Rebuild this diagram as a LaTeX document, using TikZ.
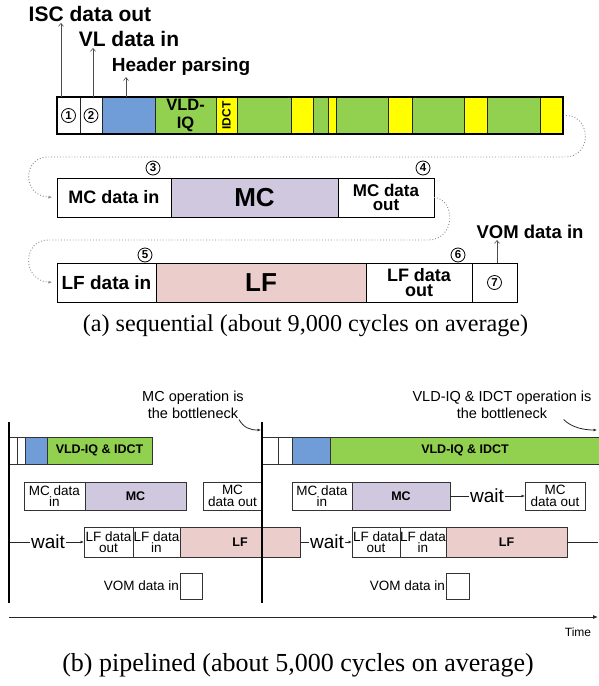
\documentclass[tikz,border=0pt]{standalone}
\usepackage{fontspec}
\setmainfont{Liberation Serif}
\setsansfont{Liberation Sans}
\usetikzlibrary{arrows.meta}

\newcommand\fss[2]{\fontsize{#1}{#2}\selectfont}

\definecolor{hpblue}{RGB}{112,156,216}
\definecolor{vgreen}{RGB}{146,208,80}
\definecolor{idyel}{RGB}{255,255,0}
\definecolor{mclav}{RGB}{208,200,223}
\definecolor{lfpink}{RGB}{235,205,204}
\definecolor{dotgray}{RGB}{140,140,140}

\tikzset{
  segA/.style={draw=black!85, line width=1pt, minimum height=37pt, inner sep=0pt,
               outer sep=0pt, anchor=north west, align=center},
  rowA/.style={draw=black, line width=1pt, minimum height=39pt, inner sep=0pt,
               outer sep=0pt, anchor=north west, align=center,
               font=\sffamily\bfseries\fss{18}{14.5}},
  bigA/.style={rowA, font=\sffamily\bfseries\fss{26}{26}},
  num/.style={circle, draw=black, line width=0.8pt, inner sep=0pt, minimum size=14pt,
              font=\sffamily\bfseries\fss{11.5}{11.5}},
  lbl/.style={font=\sffamily\bfseries\fss{20}{20}, inner sep=1pt},
  uparrow/.style={draw=black!70, line width=0.6pt, -{Straight Barb[length=3pt,width=5pt]}},
  dotlink/.style={draw=dotgray, line width=0.9pt, dotted,
                  -{Latex[length=3.5pt,width=3pt]}, shorten >=5pt},
  segB/.style={draw=black!80, line width=0.8pt, minimum height=27pt, inner sep=0pt,
               outer sep=0pt, anchor=north west, align=center,
               font=\sffamily\bfseries\fss{12.5}{12.5}},
  boxB/.style={draw=black!80, line width=0.8pt, inner sep=0pt, outer sep=0pt,
               anchor=north west, align=center, font=\sffamily\fss{13.5}{11.5}},
  bigB/.style={boxB, font=\sffamily\bfseries\fss{12.5}{12.5}},
  waitlbl/.style={font=\sffamily\fss{19}{19}, inner sep=1.2pt},
  thin/.style={draw=black!85, line width=0.8pt},
  thinarrow/.style={thin, -{Latex[length=3.5pt,width=3pt]}},
  barline/.style={draw=black, line width=1.8pt},
  note/.style={font=\sffamily\fss{14.5}{17}, align=center, inner sep=0pt},
  caption/.style={font=\rmfamily\fss{24.2}{24.2}, inner sep=0pt}
}

\begin{document}
\begin{tikzpicture}[x=1pt,y=-1pt]
\useasboundingbox (0,0) rectangle (598,686);
\fill[white] (0,0) rectangle (598,686);

% ---------------- (a) sequential ----------------
% decoding stages of one macroblock
\node[segA, fill=white, minimum width=23pt] (s1) at (57,97) {};
\node[segA, fill=white, minimum width=22pt] (s2) at (s1.north east) {};
\node[segA, fill=hpblue, minimum width=53pt] (hp) at (s2.north east) {};
\node[segA, fill=vgreen, minimum width=61pt, font=\sffamily\bfseries\fss{16.5}{18}] (vld) at (hp.north east) {VLD-\\IQ};
\node[segA, fill=idyel, minimum width=21pt] (idct) at (vld.north east) {};
\node[rotate=90, font=\sffamily\bfseries\fss{12}{12}, inner sep=0pt] (idcttxt) at (idct.center) {IDCT};
\node[segA, fill=vgreen, minimum width=54pt] (g1) at (idct.north east) {};
\node[segA, fill=idyel, minimum width=22pt] (y1) at (g1.north east) {};
\node[segA, fill=vgreen, minimum width=15pt] (g2) at (y1.north east) {};
\node[segA, fill=idyel, minimum width=8pt] (y2) at (g2.north east) {};
\node[segA, fill=vgreen, minimum width=52pt] (g3) at (y2.north east) {};
\node[segA, fill=idyel, minimum width=24pt] (y3) at (g3.north east) {};
\node[segA, fill=vgreen, minimum width=52pt] (g4) at (y3.north east) {};
\node[segA, fill=idyel, minimum width=23pt] (y4) at (g4.north east) {};
\node[segA, fill=vgreen, minimum width=53pt] (g5) at (y4.north east) {};
\node[segA, fill=idyel, minimum width=23pt] (y5) at (g5.north east) {};
\draw[black, line width=1.2pt] (s1.north west) rectangle (y5.south east);

\node[num] (n1) at (s1.center) {1};
\node[num] (n2) at (s2.center) {2};

% labels above the first stages
\node[lbl, font=\sffamily\bfseries\fss{21}{21}] (isc) at (90,14) {ISC data out};
\node[lbl, font=\sffamily\bfseries\fss{21}{21}] (vl) at (129,39) {VL data in};
\node[lbl, font=\sffamily\bfseries\fss{19}{19}] (hdr) at (181,67) {Header parsing};
\draw[uparrow] ([xshift=4pt]s1.north west) -- ([xshift=4pt]s1.north west |- isc.south);
\draw[uparrow] ([xshift=13pt]s2.north west) -- ([xshift=13pt]s2.north west |- vl.south);
\draw[uparrow] ([xshift=24pt]hp.north west) -- ([xshift=24pt]hp.north west |- hdr.south);

% motion compensation row
\node[rowA, fill=white, minimum width=114pt] (mcin) at (57,178) {MC data in};
\node[bigA, fill=mclav, minimum width=167pt] (mc) at (mcin.north east) {MC};
\node[rowA, fill=white, minimum width=96pt, font=\sffamily\bfseries\fss{17}{14}] (mcout) at (mc.north east) {MC data\\out};
\node[num] (n3) at (153,168) {3};
\node[num] (n4) at (423,168) {4};

% loop filter row
\node[rowA, fill=white, minimum width=99pt, font=\sffamily\bfseries\fss{19}{19}] (lfin) at (57,263) {LF data in};
\node[bigA, fill=lfpink, minimum width=210pt] (lf) at (lfin.north east) {LF};
\node[rowA, fill=white, minimum width=106pt] (lfout) at (lf.north east) {LF data\\out};
\node[rowA, fill=white, minimum width=45pt] (vomA) at (lfout.north east) {};
\node[num] (n5) at (145,255) {5};
\node[num] (n6) at (458,255) {6};
\node[num] (n7) at (vomA.center) {7};
\node[lbl, font=\sffamily\bfseries\fss{18.5}{18.5}] (vomlbl) at (530,232) {VOM data in};
\draw[uparrow] ([xshift=25pt]vomA.north west) -- ([xshift=25pt]vomA.north west |- vomlbl.south);

% dotted continuation between rows
\draw[dotlink] ([xshift=3pt]y5.east) .. controls (592,116) and (592,157) .. (565,157)
  -- (48,157) .. controls (22,157) and (22,196) .. (mcin.west);
\draw[dotlink] (mcout.east) .. controls (456,199) and (456,240) .. (428,240)
  -- (48,240) .. controls (22,240) and (22,281) .. (lfin.west);

\node[caption] (capa) at (305.5,326) {(a) sequential (about 9,000 cycles on average)};

% ---------------- (b) pipelined ----------------
\coordinate (v1t) at (9,422);
\coordinate (v1b) at (9,603);
\coordinate (v2t) at (262,422);
\coordinate (v2b) at (262,603);

% first period
\node[segB, fill=white, minimum width=8pt] (p1a) at (9,437) {};
\node[segB, fill=white, minimum width=8pt] (p1b) at (p1a.north east) {};
\node[segB, fill=hpblue, minimum width=22pt] (p1h) at (p1b.north east) {};
\node[segB, fill=vgreen, minimum width=105pt] (p1v) at (p1h.north east) {VLD-IQ \& IDCT};

\node[boxB, fill=white, minimum width=61pt, minimum height=28pt] (mcin1) at (24,482) {MC data\\in};
\node[bigB, fill=mclav, minimum width=101pt, minimum height=28pt] (mc1) at (mcin1.north east) {MC};
\node[boxB, fill=white, minimum width=59pt, minimum height=28pt] (mcout1) at (203,482) {MC\\data out};

\node[waitlbl] (w1) at (48,542) {wait};
\node[boxB, fill=white, minimum width=49pt, minimum height=30pt] (lfout1) at (84,527) {LF data\\out};
\node[boxB, fill=white, minimum width=47pt, minimum height=30pt] (lfin1) at (lfout1.north east) {LF data\\in};
\node[bigB, fill=lfpink, minimum width=120pt, minimum height=30pt] (lf1) at (lfin1.north east) {LF};
\draw[thin] (v1t |- w1) -- (w1.west);
\draw[thinarrow] (w1.east) -- (lfout1.west);

\node[boxB, fill=white, minimum width=22pt, minimum height=26pt] (vom1) at (180,573) {};
\node[boxB, draw=none, anchor=east, inner sep=1pt] (vomt1) at (vom1.west) {VOM data in};

% second period
\node[segB, fill=white, minimum width=16pt] (p2a) at (262,437) {};
\node[segB, fill=white, minimum width=14pt] (p2b) at (p2a.north east) {};
\node[segB, fill=hpblue, minimum width=38pt] (p2h) at (p2b.north east) {};
\node[segB, fill=vgreen, minimum width=270pt] (p2v) at (p2h.north east) {VLD-IQ \& IDCT};

\node[boxB, fill=white, minimum width=60pt, minimum height=28pt] (mcin2) at (292,482) {MC data\\in};
\node[bigB, fill=mclav, minimum width=98pt, minimum height=28pt] (mc2) at (mcin2.north east) {MC};
\node[waitlbl] (w2) at (487,496) {wait};
\node[boxB, fill=white, minimum width=60pt, minimum height=28pt] (mcout2) at (525,482) {MC\\data out};
\draw[thin] (mc2.east) -- (w2.west);
\draw[thinarrow] (w2.east) -- (mcout2.west);

\node[waitlbl] (w3) at (327,542) {wait};
\node[boxB, fill=white, minimum width=48pt, minimum height=30pt] (lfout2) at (352,527) {LF data\\out};
\node[boxB, fill=white, minimum width=46pt, minimum height=30pt] (lfin2) at (lfout2.north east) {LF data\\in};
\node[bigB, fill=lfpink, minimum width=121pt, minimum height=30pt] (lf2) at (lfin2.north east) {LF};
\coordinate (lftail) at (598,542);
\draw[thin] (lf1.east) -- (w3.west);
\draw[thinarrow] (w3.east) -- (lfout2.west);
\draw[thin] (lf2.east) -- (lftail);

\node[boxB, fill=white, minimum width=23pt, minimum height=26pt] (vom2) at (446,573) {};
\node[boxB, draw=none, anchor=east, inner sep=1pt] (vomt2) at (vom2.west) {VOM data in};

% period boundaries
\draw[barline] (v1t) -- (v1b);
\draw[barline] (v2t) -- (v2b);

% bottleneck notes
\node[note] (ann1) at (193,404.5) {MC operation is\\the bottleneck};
\node[note] (ann2) at (502,404.5) {VLD-IQ \& IDCT operation is\\the bottleneck};
\coordinate (b1) at (261,430);
\coordinate (b2) at (597,430);
\draw[thinarrow] ([xshift=-5pt,yshift=-1pt]ann1.south east) .. controls (244,428) and (250,430) .. (b1);
\draw[thinarrow] ([xshift=-28pt,yshift=-1pt]ann2.south east) .. controls (572,428) and (585,430) .. (b2);

% time axis
\coordinate (t0) at (9,617);
\coordinate (t1) at (598,617);
\draw[thin, -{Latex[length=5pt,width=4pt]}] (t0) -- (t1);
\node[font=\sffamily\fss{12}{12}] (time) at (578,632) {Time};

\node[caption, font=\rmfamily\fss{26}{26}] (capb) at (298,665) {(b) pipelined (about 5,000 cycles on average)};
\end{tikzpicture}
\end{document}
